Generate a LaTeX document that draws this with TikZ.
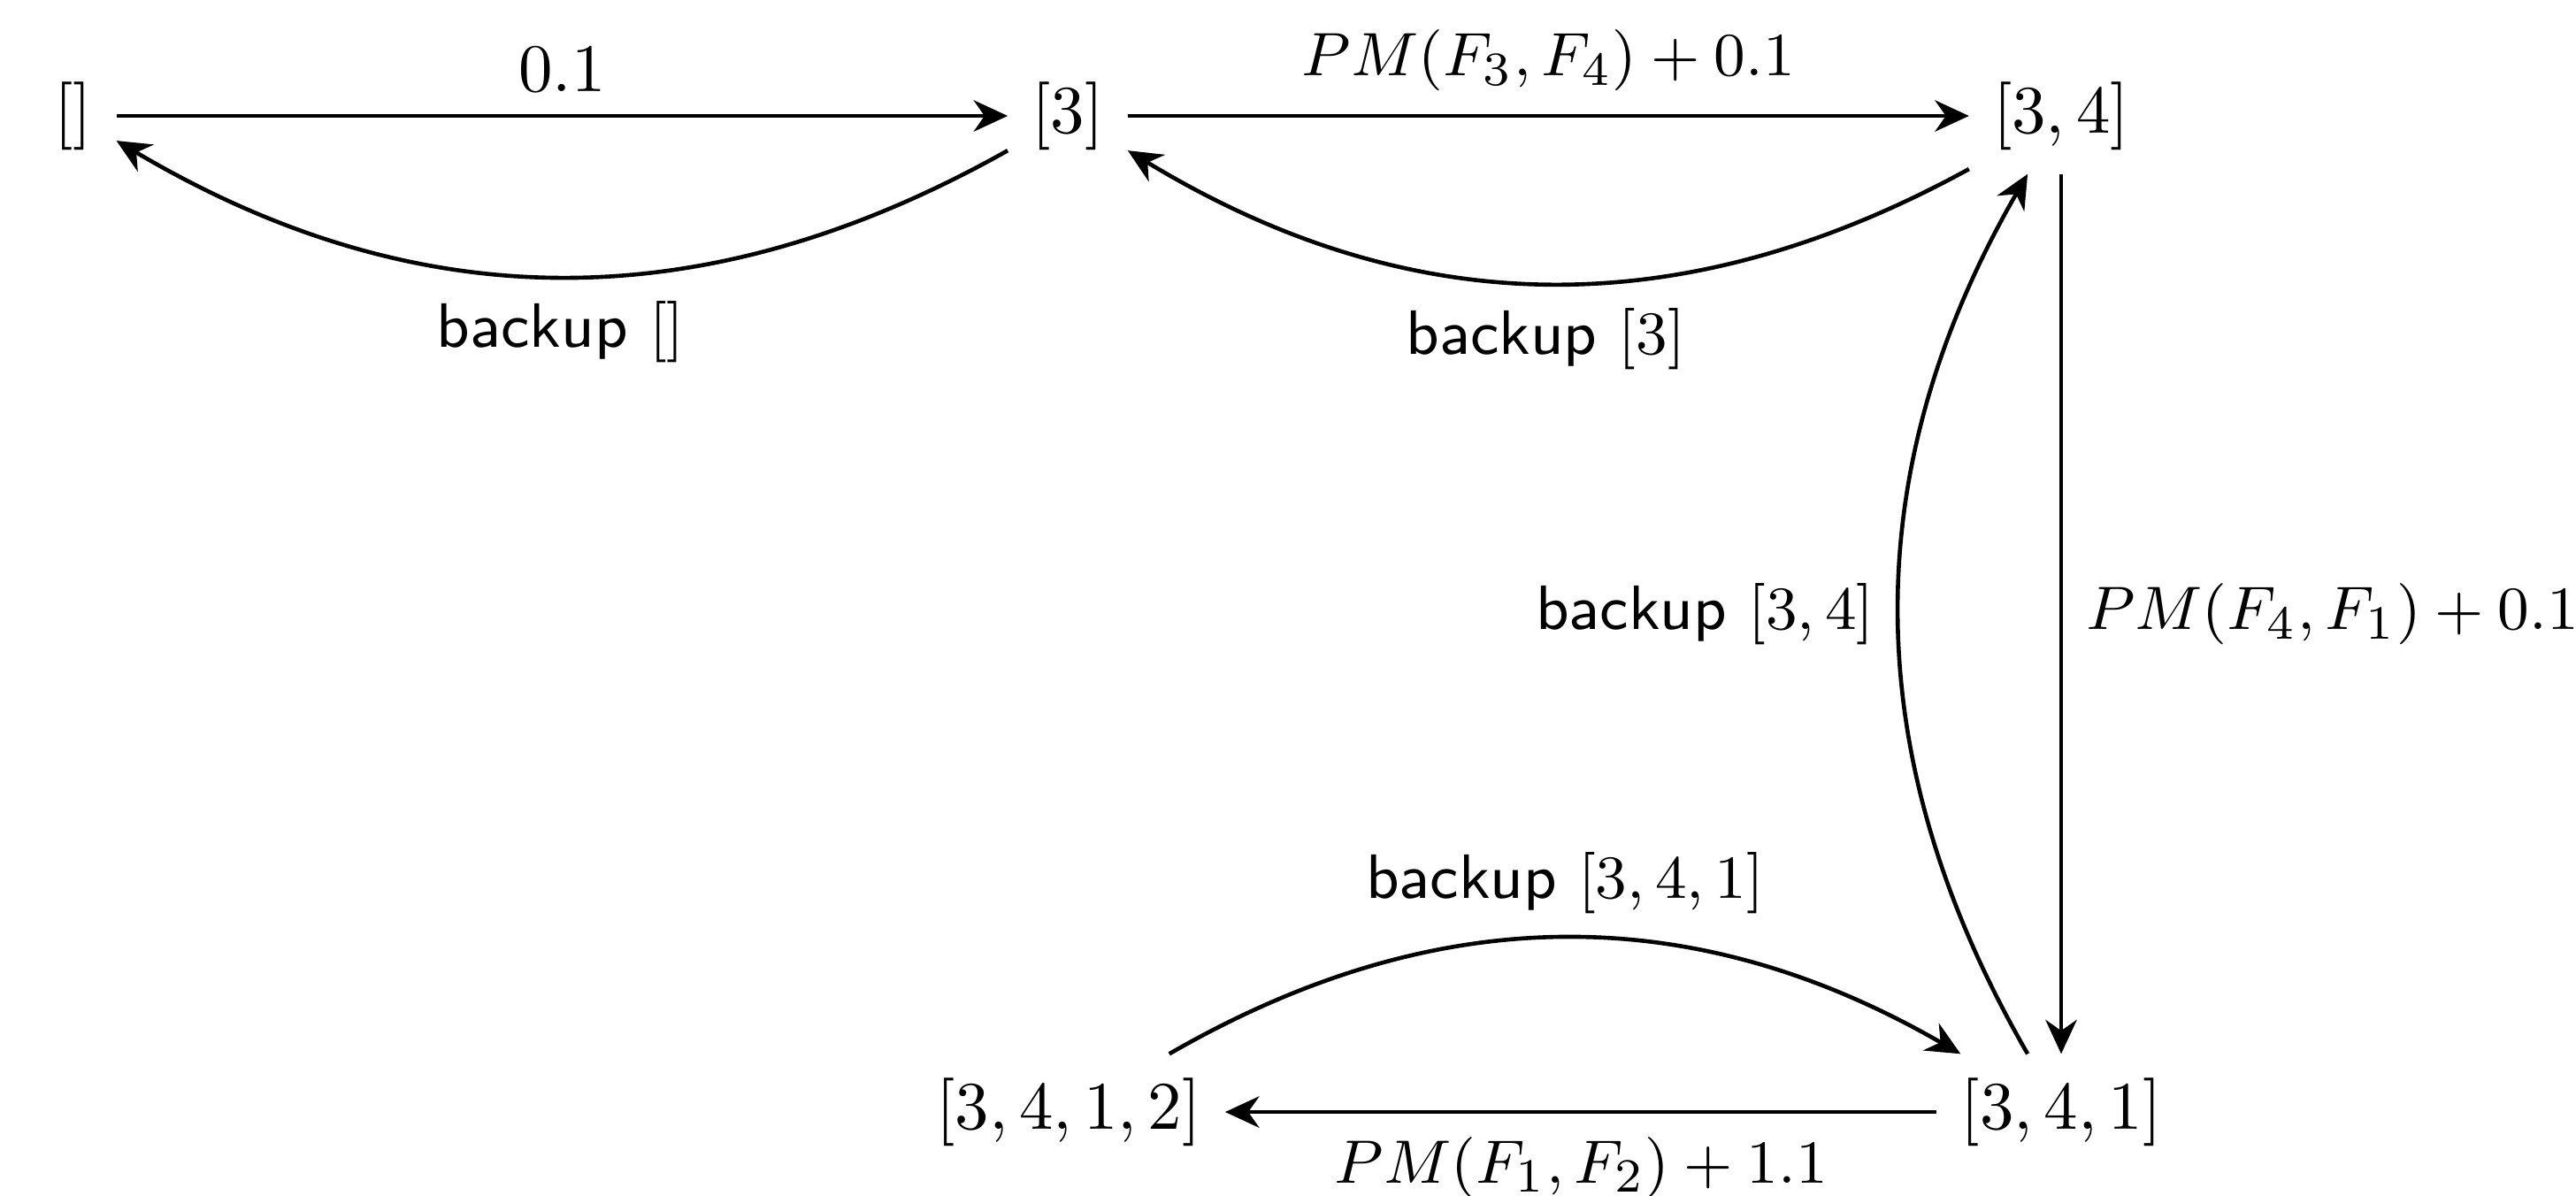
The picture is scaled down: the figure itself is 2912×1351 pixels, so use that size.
\documentclass[tikz,border=0pt]{standalone}
\usetikzlibrary{arrows.meta}
\begin{document}
\begin{tikzpicture}[x=0.12987pt,y=0.12987pt,
  conn/.style={-{Stealth[length=5pt,width=4.6pt,inset=1.6pt]}, line width=0.6pt},
  lbl/.style={font=\sffamily\fontsize{9.2}{11}\selectfont},
  mlbl/.style={font=\fontsize{9.4}{11}\selectfont},
  state/.style={}]
\useasboundingbox (0,0) rectangle (2912,-1351);
\node[state] (A) at (83,-131) {$[]$};
\node[state] (B) at (1207,-131) {$[3]$};
\node[state] (C) at (2330,-131) {$[3,4]$};
\node[state] (D) at (2330,-1257) {$[3,4,1]$};
\node[state] (E) at (1208,-1257) {$[3,4,1,2]$};
\draw[conn] (A) -- node[above] (la) {$0.1$} (B);
\draw[conn] (B) to[bend left=30] node[below,lbl] (lb) {backup $[]$} (A);
\draw[conn] (B) -- node[above,mlbl] (lc) {$PM(F_3,F_4)+0.1$} (C);
\draw[conn] (C) to[bend left=30] node[below,lbl] (ld) {backup $[3]$} (B);
\draw[conn] (C) -- node[right,mlbl] (le) {$PM(F_4,F_1)+0.1$} (D);
\draw[conn] (D) to[bend left=30] node[left,lbl] (lf) {backup $[3,4]$} (C);
\draw[conn] (D) -- node[below,mlbl] (lg) {$PM(F_1,F_2)+1.1$} (E);
\draw[conn] (E) to[bend left=30] node[above,lbl] (lh) {backup $[3,4,1]$} (D);
\end{tikzpicture}
\end{document}
